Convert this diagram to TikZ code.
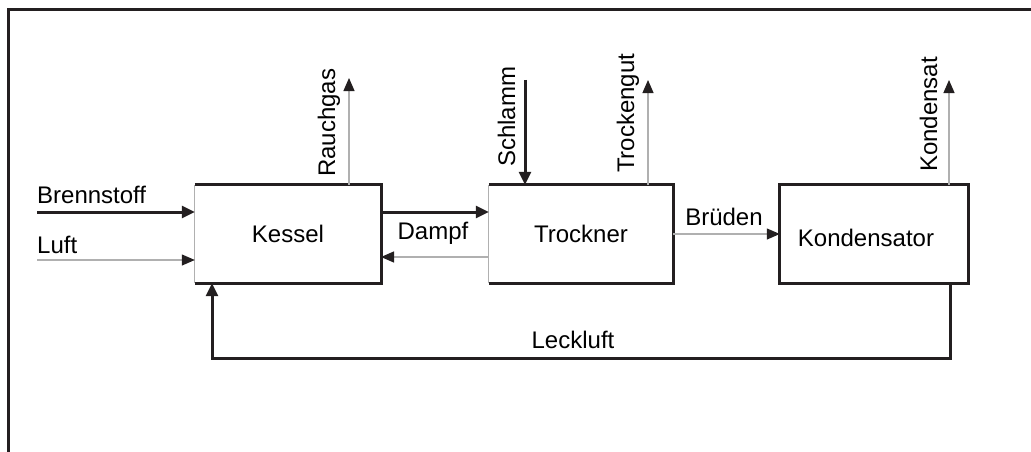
\documentclass[tikz,border=0pt]{standalone}
\usepackage{fontspec}
\setmainfont{Liberation Sans}
\usetikzlibrary{arrows.meta}
\definecolor{ink}{HTML}{231F20}
\definecolor{thin}{HTML}{B0B0B0}
\tikzset{
  heavy/.style={draw=ink, line width=3pt},
  light/.style={draw=thin, line width=1.2pt},
  heavytip/.style={heavy, -{Triangle[length=13pt,width=12pt,fill=ink,color=ink]}},
  lighttip/.style={light, -{Triangle[length=13pt,width=11pt,fill=ink,color=ink]}},
  box/.style={inner sep=0pt, minimum height=98pt, font=\fontsize{24}{28}\selectfont},
  lbl/.style={inner sep=0pt, font=\fontsize{24}{28}\selectfont},
  vlbl/.style={lbl, rotate=90, anchor=base west}
}
\begin{document}
\begin{tikzpicture}[x=1pt,y=-1pt]
\useasboundingbox (0,0) rectangle (1031,452);
\clip (0,0) rectangle (1031,452);
% frame
\draw[draw=ink, line width=3pt] (8,470) -- (8,10) -- (1050,10);

% boxes
\node[box, minimum width=186pt] (kessel) at (288,234) {Kessel};
\node[box, minimum width=184pt] (trockner) at (581,234) {Trockner};
\node[box, minimum width=188pt] (kond) at (874,234) {};
\node[lbl] (kondtxt) at (866,238) {Kondensator};

\draw[light] (kessel.south west) -- (kessel.north west);
\draw[heavy] (kessel.north west) -- (kessel.north east) -- (kessel.south east) -- (kessel.south west);
\draw[light] (trockner.south west) -- (trockner.north west);
\draw[heavy] (trockner.north west) -- (trockner.north east) -- (trockner.south east) -- (trockner.south west);
\draw[heavy] (kond.north west) rectangle (kond.south east);

% inputs to Kessel
\coordinate (bsin) at (37,212);
\coordinate (luin) at (37,260);
\draw[heavytip] (bsin) -- (bsin -| kessel.west);
\draw[lighttip] (luin) -- (luin -| kessel.west);
\node[lbl, anchor=base west] (brennstoff) at (37,203) {Brennstoff};
\node[lbl, anchor=base west] (luft) at (37,253) {Luft};

% Dampf
\coordinate (d1) at (381,212);
\coordinate (d2) at (381,257);
\draw[heavytip] (d1) -- (d1 -| trockner.west);
\draw[lighttip] (d2 -| trockner.west) -- (d2);
\node[lbl, anchor=base] (dampf) at (433,239) {Dampf};

% Rauchgas
\coordinate (rg) at (349,78);
\draw[lighttip] (rg |- kessel.north) -- (rg);
\node[vlbl] (rauchgas) at (335,177) {Rauchgas};

% Schlamm
\coordinate (sl) at (525,80);
\draw[heavytip] (sl) -- (sl |- trockner.north);
\node[vlbl] (schlamm) at (515,167) {Schlamm};

% Trockengut
\coordinate (tg) at (648,80);
\draw[lighttip] (tg |- trockner.north) -- (tg);
\node[vlbl] (trockengut) at (634,173) {Trockengut};

% Brueden
\draw[lighttip] (trockner.east) -- (kond.west);
\node[lbl, anchor=base] (brueden) at (724,225) {Brüden};

% Kondensat
\coordinate (ks) at (949,80);
\draw[lighttip] (ks |- kond.north) -- (ks);
\node[vlbl] (kondensat) at (937,172) {Kondensat};

% Leckluft
\coordinate (lk1) at (950,358);
\coordinate (lk2) at (212,358);
\draw[heavytip] (lk1 |- kond.south) -- (lk1) -- (lk2) -- (lk2 |- kessel.south);
\node[lbl, anchor=base] (leckluft) at (573,348) {Leckluft};
\end{tikzpicture}
\end{document}
